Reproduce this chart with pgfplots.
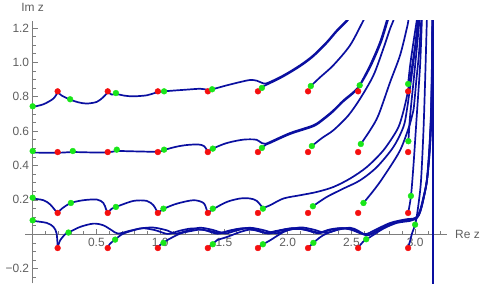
\documentclass[border=0pt]{standalone}
\usepackage{fontspec}
\setmainfont{Liberation Sans}
\usepackage{pgfplots}
\pgfplotsset{compat=1.18}
\definecolor{curveblue}{RGB}{10,15,160}
\definecolor{dotred}{RGB}{245,15,15}
\definecolor{dotgreen}{RGB}{25,230,25}
\definecolor{axgray}{RGB}{125,125,125}
\definecolor{labgray}{RGB}{95,95,95}
\pgfplotsset{traj/.style={draw=curveblue, line width=1.7bp, smooth, tension=0.5, no markers}}
\begin{document}
\begin{tikzpicture}
\begin{axis}[name=ax, scale only axis, width=422bp, height=262.3bp,
 xmin=-0.06, xmax=3.25, ymin=-0.285, ymax=1.24,
 axis lines=middle, axis line style={draw=axgray, line width=0.8bp, -},
 xtick={0,0.5,1,1.5,2,2.5,3}, xticklabels={,0.5,1.0,1.5,2.0,2.5,3.0},
 ytick={-0.2,0,0.2,0.4,0.6,0.8,1.0,1.2}, yticklabels={−0.2,,0.2,0.4,0.6,0.8,1.0,1.2},
 minor xtick={0.1,0.2,...,3.2}, minor ytick={-0.25,-0.2,...,1.2},
 tick style={draw=axgray, line width=0.6bp},
 major tick length=5bp, minor tick length=3bp,
 tick align=inside,
 ticklabel style={font=\fontsize{12}{14}\selectfont, text=labgray},
 xlabel={Re z}, ylabel={Im z},
 every axis x label/.style={at={(axis cs:3.25,0)}, anchor=west, inner sep=0pt, xshift=8bp, font=\fontsize{12}{14}\selectfont, text=labgray},
 every axis y label/.style={at={(axis cs:0,1.24)}, anchor=south, inner sep=0pt, yshift=9bp, font=\fontsize{12}{14}\selectfont, text=labgray},
]
% vertical asymptote
\addplot[draw=curveblue, line width=1.9bp] coordinates {(3.1416,-0.3) (3.1416,1.3)};
% ---- band 1
\addplot[traj] coordinates {(0,0.740) (0.085,0.756) (0.163,0.789) (0.196,0.826)};
\addplot[traj] coordinates {(0.196,0.826) (0.229,0.806) (0.294,0.783) (0.36,0.767) (0.425,0.760) (0.504,0.770) (0.555,0.798) (0.589,0.826)};
\addplot[traj] coordinates {(0.589,0.826) (0.621,0.812) (0.653,0.816) (0.72,0.806) (0.791,0.802) (0.896,0.808) (0.961,0.822) (1.031,0.831) (1.209,0.841) (1.314,0.846) (1.366,0.841) (1.408,0.843) (1.523,0.866) (1.627,0.885) (1.706,0.897) (1.758,0.893) (1.80,0.880) (1.837,0.878) (1.967,0.924) (2.098,0.983) (2.202,1.041) (2.307,1.118) (2.386,1.186) (2.464,1.244) (2.51,1.29)};
\addplot[traj] coordinates {(1.798,0.851) (1.82,0.864) (1.86,0.878) (1.967,0.918) (2.098,0.977) (2.202,1.035) (2.307,1.112) (2.386,1.180) (2.464,1.238) (2.51,1.284)};
\addplot[traj] coordinates {(2.182,0.862) (2.255,0.913) (2.359,0.983) (2.490,1.099) (2.595,1.244) (2.631,1.29)};
\addplot[traj] coordinates {(2.565,0.866) (2.647,0.983) (2.725,1.118) (2.778,1.244) (2.796,1.29)};
\addplot[traj] coordinates {(2.945,0.874) (2.961,0.983) (2.987,1.118) (3.013,1.244) (3.02,1.29)};
% ---- band 2
\addplot[traj] coordinates {(0,0.475) (0.196,0.474) (0.315,0.478) (0.45,0.476) (0.589,0.476) (0.660,0.484) (0.8,0.482) (0.982,0.480) (1.031,0.490) (1.12,0.508) (1.209,0.519) (1.30,0.522) (1.345,0.512) (1.374,0.480)};
\addplot[traj] coordinates {(1.374,0.480) (1.413,0.498) (1.50,0.525) (1.575,0.540) (1.65,0.550) (1.706,0.552) (1.758,0.549) (1.798,0.530) (1.825,0.526) (1.863,0.537) (2.020,0.589) (2.202,0.634) (2.281,0.673) (2.359,0.721) (2.438,0.779) (2.516,0.827) (2.575,0.876) (2.655,0.983) (2.733,1.118) (2.786,1.244) (2.804,1.29)};
\addplot[traj] coordinates {(1.798,0.502) (1.83,0.521) (1.863,0.531) (2.020,0.583) (2.202,0.628) (2.281,0.667) (2.359,0.715) (2.438,0.773) (2.516,0.821) (2.57,0.866)};
\addplot[traj] coordinates {(2.190,0.513) (2.27,0.56) (2.359,0.605) (2.475,0.690) (2.569,0.789) (2.673,0.924) (2.751,1.080) (2.804,1.196) (2.830,1.244) (2.84,1.29)};
\addplot[traj] coordinates {(2.574,0.525) (2.647,0.605) (2.712,0.692) (2.804,0.885) (2.882,1.041) (2.935,1.198) (2.947,1.244) (2.952,1.29)};
\addplot[traj] coordinates {(2.947,0.541) (2.961,0.692) (2.987,0.885) (3.013,1.080) (3.034,1.244) (3.04,1.29)};
% ---- band 3
\addplot[traj] coordinates {(0,0.208) (0.085,0.198) (0.137,0.174) (0.176,0.140) (0.196,0.124)};
\addplot[traj] coordinates {(0.196,0.124) (0.229,0.149) (0.30,0.182) (0.398,0.198) (0.504,0.202) (0.555,0.182) (0.576,0.145) (0.589,0.124)};
\addplot[traj] coordinates {(0.589,0.124) (0.621,0.149) (0.653,0.159) (0.791,0.194) (0.896,0.194) (0.947,0.169) (0.970,0.140) (0.982,0.124)};
\addplot[traj] coordinates {(0.982,0.124) (1.031,0.149) (1.131,0.178) (1.261,0.198) (1.340,0.182) (1.366,0.140) (1.374,0.124)};
\addplot[traj] coordinates {(1.374,0.124) (1.413,0.145) (1.523,0.188) (1.627,0.208) (1.706,0.208) (1.758,0.194) (1.806,0.152)};
\addplot[traj] coordinates {(1.806,0.152) (1.863,0.169) (1.967,0.208) (2.098,0.227) (2.229,0.246) (2.359,0.275) (2.490,0.324) (2.621,0.391) (2.751,0.488) (2.857,0.605) (2.896,0.682) (2.935,0.80) (2.97,0.95) (3.0,1.10) (3.022,1.244) (3.03,1.29)};
\addplot[traj] coordinates {(2.198,0.163) (2.307,0.217) (2.438,0.266) (2.569,0.314) (2.700,0.391) (2.830,0.508) (2.908,0.624) (2.935,0.721) (2.965,0.88) (2.995,1.05) (3.03,1.244) (3.04,1.29)};
\addplot[traj] coordinates {(2.595,0.182) (2.68,0.26) (2.751,0.333) (2.882,0.488) (2.961,0.645) (2.987,0.721) (3.01,0.9) (3.03,1.05) (3.048,1.244) (3.053,1.29)};
\addplot[traj] coordinates {(2.945,0.124) (2.967,0.221) (2.987,0.401) (3.013,0.692) (3.039,0.983) (3.053,1.244) (3.058,1.29)};
% ---- band 4
\addplot[traj] coordinates {(0,0.078) (0.111,0.066) (0.163,0.043) (0.188,0.005) (0.196,-0.075)};
\addplot[traj] coordinates {(0.196,-0.075) (0.216,-0.035) (0.255,0.0) (0.281,0.010) (0.373,0.043) (0.477,0.062) (0.555,0.052) (0.621,0.023) (0.67,0.004) (0.76,0.020) (0.86,0.035) (0.96,0.024) (1.06,0.002) (1.15,0.020) (1.25,0.034) (1.35,0.024) (1.45,0.003) (1.54,0.021) (1.64,0.034) (1.74,0.024) (1.85,0.004) (1.94,0.022) (2.04,0.035) (2.14,0.025) (2.24,0.006) (2.33,0.024) (2.43,0.036) (2.52,0.024) (2.58,0.004) (2.62,-0.006) (2.66,0.004) (2.751,0.040) (2.857,0.072) (2.961,0.084) (3.013,0.100) (3.039,0.140) (3.065,0.217) (3.092,0.314) (3.112,0.5) (3.125,0.7) (3.133,1.0) (3.137,1.29)};
\addplot[traj] coordinates {(0.589,-0.075) (0.608,-0.054) (0.647,-0.031) (0.712,0.004) (0.843,0.033) (0.947,0.039) (1.053,0.023) (1.12,0.004) (1.21,0.020) (1.31,0.038) (1.41,0.026) (1.51,0.005) (1.60,0.022) (1.70,0.038) (1.80,0.026) (1.91,0.006) (2.00,0.024) (2.10,0.040) (2.20,0.028) (2.30,0.008) (2.39,0.026) (2.49,0.038) (2.55,0.022) (2.60,0.0) (2.64,-0.004) (2.70,0.020) (2.80,0.058) (2.90,0.078) (2.98,0.088) (3.02,0.106) (3.045,0.150) (3.07,0.225) (3.095,0.32) (3.115,0.5) (3.127,0.7) (3.134,1.0) (3.138,1.29)};
\addplot[traj] coordinates {(0.982,-0.075) (1.0,-0.062) (1.026,-0.050) (1.053,-0.035) (1.157,0.004) (1.25,0.020) (1.314,0.027) (1.40,0.018) (1.445,0.010) (1.50,0.012) (1.58,0.025) (1.67,0.036) (1.76,0.024) (1.83,0.008) (1.90,0.018) (2.0,0.032) (2.07,0.036) (2.17,0.022) (2.25,0.010) (2.33,0.028) (2.42,0.036) (2.50,0.026) (2.57,0.006) (2.62,0.002) (2.673,0.020) (2.804,0.066) (2.935,0.088) (3.0,0.092) (3.03,0.112) (3.055,0.17) (3.08,0.26) (3.1,0.36) (3.118,0.52) (3.13,0.75) (3.136,1.29)};
\addplot[traj] coordinates {(1.374,-0.075) (1.392,-0.068) (1.413,-0.058) (1.445,-0.035) (1.523,-0.016) (1.627,0.013) (1.706,0.027) (1.78,0.020) (1.85,0.006) (1.94,0.021) (2.04,0.033)};
\addplot[traj] coordinates {(1.767,-0.075) (1.785,-0.068) (1.806,-0.058) (1.863,-0.035) (1.967,0.013) (2.04,0.030) (2.14,0.028) (2.24,0.008) (2.33,0.026)};
\addplot[traj] coordinates {(2.160,-0.075) (2.18,-0.065) (2.202,-0.050) (2.25,-0.020) (2.307,0.005) (2.412,0.030) (2.49,0.033) (2.54,0.020)};
\addplot[traj] coordinates {(2.553,-0.075) (2.57,-0.062) (2.590,-0.045) (2.616,-0.029) (2.647,-0.016) (2.751,0.033) (2.857,0.066) (2.961,0.078) (3.013,0.094) (3.039,0.130) (3.065,0.205) (3.09,0.30) (3.11,0.48) (3.124,0.7) (3.132,1.0) (3.136,1.29)};
\addplot[traj] coordinates {(2.945,-0.075) (2.96,-0.04) (2.975,0.004) (3.0,0.056) (3.018,0.13) (3.045,0.30) (3.065,0.595) (3.078,0.885) (3.092,1.244) (3.095,1.29)};
% ---- red points
\addplot[only marks, mark=*, mark size=2.9bp, color=dotred] coordinates {
(0.196,0.831) (0.589,0.831) (0.982,0.831) (1.374,0.831) (1.767,0.831) (2.160,0.831) (2.553,0.831) (2.945,0.831)
(0.196,0.478) (0.589,0.478) (0.982,0.478) (1.374,0.478) (1.767,0.478) (2.160,0.478) (2.553,0.478) (2.945,0.478)
(0.196,0.124) (0.589,0.124) (0.982,0.124) (1.374,0.124) (1.767,0.124) (2.160,0.124) (2.553,0.124) (2.945,0.124)
(0.196,-0.080) (0.589,-0.080) (0.982,-0.080) (1.374,-0.080) (1.767,-0.080) (2.160,-0.080) (2.553,-0.080) (2.945,-0.080)};
% ---- green points
\addplot[only marks, mark=*, mark size=2.9bp, color=dotgreen] coordinates {
(0,0.744) (0.294,0.785) (0.653,0.821) (1.031,0.831) (1.408,0.843) (1.798,0.851) (2.182,0.862) (2.565,0.866) (2.945,0.874)
(0,0.484) (0.315,0.484) (0.660,0.492) (1.031,0.492) (1.413,0.498) (1.798,0.502) (2.190,0.513) (2.574,0.525) (2.947,0.541)
(0,0.213) (0.30,0.182) (0.653,0.159) (1.026,0.149) (1.413,0.149) (1.806,0.149) (2.198,0.163) (2.595,0.182) (2.967,0.223)
(0,0.081) (0.281,0.010) (0.647,-0.031) (1.026,-0.050) (1.413,-0.058) (1.806,-0.058) (2.202,-0.050) (2.616,-0.029) (3.0,0.056)};
\end{axis}
\pgfresetboundingbox
\path[use as bounding box] ([xshift=-25bp]ax.south west) rectangle ([xshift=38bp,yshift=21bp]ax.north east);
\end{tikzpicture}
\end{document}
